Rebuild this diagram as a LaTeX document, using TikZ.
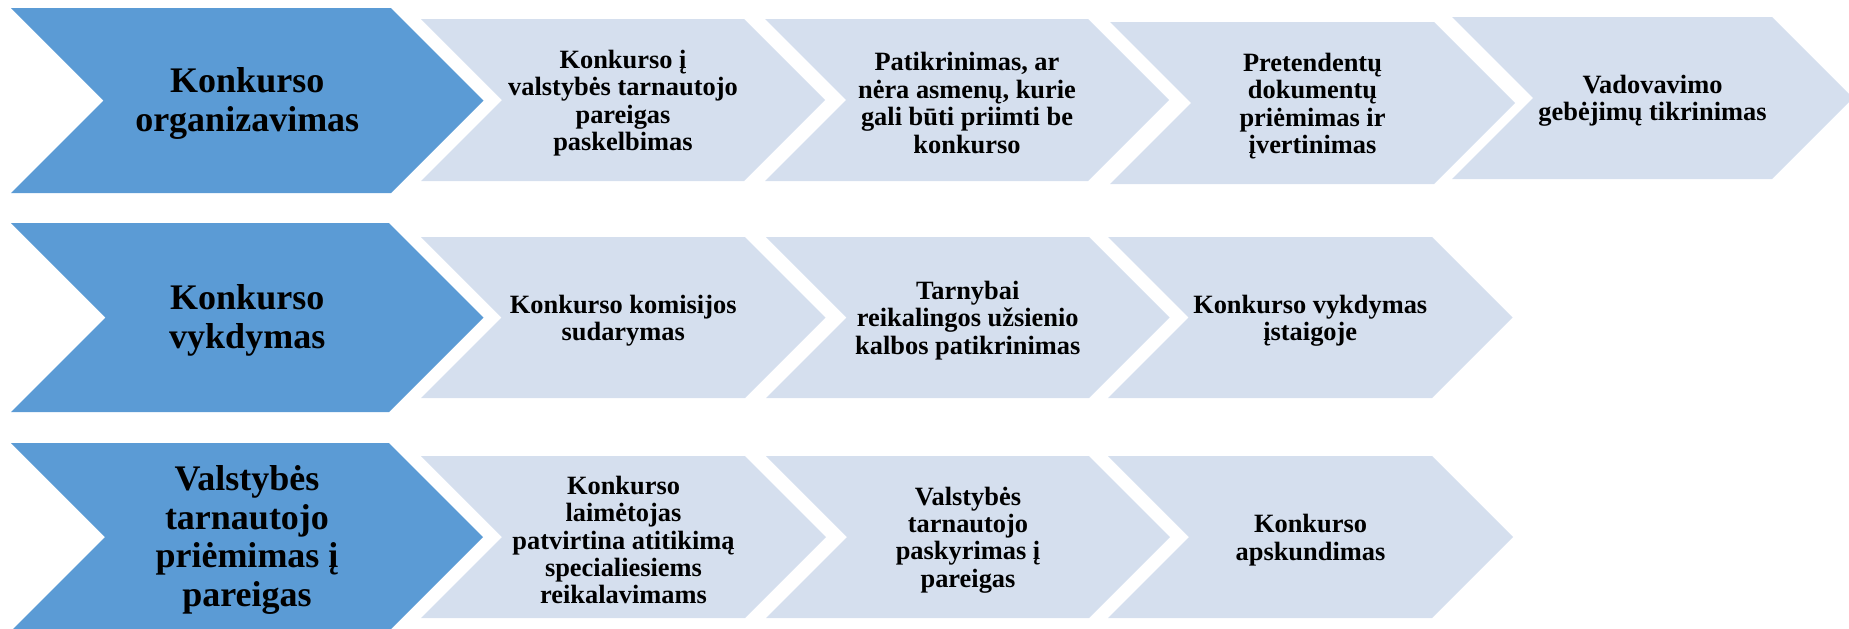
\documentclass[tikz,border=0pt]{standalone}
\usepackage{fontspec}
\setmainfont{Liberation Serif}
\definecolor{bigblue}{HTML}{5B9BD5}
\definecolor{lightblue}{HTML}{D5DFEE}
\tikzset{
  bigfill/.style={fill=bigblue},
  lightfill/.style={fill=lightblue},
  bigtext/.style={align=center,inner sep=0pt,yshift=-1.5pt,font=\fontsize{18}{19.2}\selectfont\bfseries},
  smalltext/.style={align=center,inner sep=0pt,yshift=-1.5pt,font=\fontsize{13.2}{13.7}\selectfont\bfseries},
}
% #1 left x, #2 corner x, #3 top y, #4 bottom y, #5 fill style, #6 node name, #7 text style, #8 text
\newcommand\chev[8]{%
  \pgfmathsetmacro\dd{(#4-#3)/2}%
  \pgfmathsetmacro\mm{(#4+#3)/2}%
  \fill[#5] (#1,#3) -- (#2,#3) -- ({#2+\dd},\mm) -- (#2,#4) -- (#1,#4) -- ({#1+\dd},\mm) -- cycle;
  \node[#7] (#6) at ({(#1+#2+\dd)/2},\mm) {#8};
}
\begin{document}
\begin{tikzpicture}[x=0.5pt,y=-0.5pt]
\useasboundingbox (0,0) rectangle (1849,628);
\begin{scope}
\clip (0,0) rectangle (1849,628);
% Row 1
\chev{11}{391}{8}{193}{bigfill}{r1big}{bigtext}{Konkurso\\organizavimas}
\chev{421}{744}{19}{181}{lightfill}{r1a}{smalltext}{Konkurso į\\valstybės tarnautojo\\pareigas\\paskelbimas}
\chev{765}{1088}{19}{181}{lightfill}{r1b}{smalltext}{Patikrinimas, ar\\nėra asmenų, kurie\\gali būti priimti be\\konkurso}
\chev{1110}{1434}{22}{184}{lightfill}{r1c}{smalltext}{Pretendentų\\dokumentų\\priėmimas ir\\įvertinimas}
\chev{1452}{1772}{17}{179}{lightfill}{r1d}{smalltext}{Vadovavimo\\gebėjimų tikrinimas}
% Row 2
\chev{11}{389}{223}{412}{bigfill}{r2big}{bigtext}{Konkurso\\vykdymas}
\chev{421}{745}{237}{398}{lightfill}{r2a}{smalltext}{Konkurso komisijos\\sudarymas}
\chev{766}{1089}{237}{398}{lightfill}{r2b}{smalltext}{Tarnybai\\reikalingos užsienio\\kalbos patikrinimas}
\chev{1108}{1432}{237}{398}{lightfill}{r2c}{smalltext}{Konkurso vykdymas\\įstaigoje}
% Row 3
\chev{11}{389}{443}{631}{bigfill}{r3big}{bigtext}{Valstybės\\tarnautojo\\priėmimas į\\pareigas}
\chev{421}{745}{456}{618}{lightfill}{r3a}{smalltext}{Konkurso\\laimėtojas\\patvirtina atitikimą\\specialiesiems\\reikalavimams}
\chev{766}{1089}{456}{618}{lightfill}{r3b}{smalltext}{Valstybės\\tarnautojo\\paskyrimas į\\pareigas}
\chev{1108}{1432}{456}{618}{lightfill}{r3c}{smalltext}{Konkurso\\apskundimas}
\end{scope}
\end{tikzpicture}
\end{document}
